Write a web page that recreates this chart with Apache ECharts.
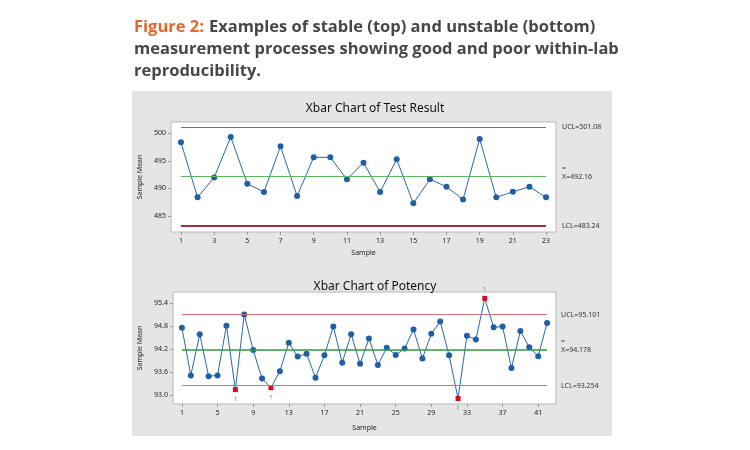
<!DOCTYPE html>
<html><head><meta charset="utf-8">
<script src="https://cdn.jsdelivr.net/npm/echarts@6/dist/echarts.min.js"></script>
<style>html,body{margin:0;padding:0;background:#fff}#c{width:750px;height:450px}</style>
</head><body><div id="c"></div><script>
// ---- data ----
const captionLead = 'Figure 2:';
const captionLines = ['Examples of stable (top) and unstable (bottom)', 'measurement processes showing good and poor within-lab', 'reproducibility.'];
const topTitle = 'Xbar Chart of Test Result';
const botTitle = 'Xbar Chart of Potency';
const xName = 'Sample';
const yName = 'Sample Mean';

const topSamples = [1,2,3,4,5,6,7,8,9,10,11,12,13,14,15,16,17,18,19,20,21,22,23];
const topValues = [498.37,488.38,492.0,499.33,490.86,489.35,497.64,488.62,495.64,495.64,491.65,494.67,489.35,495.28,487.30,491.65,490.31,488.0,498.97,488.38,489.4,490.31,488.38];
const topUCL = 501.08, topCL = 492.16, topLCL = 483.24;
const topUCLText = 'UCL=501.08', topCLText = 'X=492.16', topLCLText = 'LCL=483.24';
const topXTicks = [1,3,5,7,9,11,13,15,17,19,21,23];
const topYTicks = [485,490,495,500];

const botSamples = [1,2,3,4,5,6,7,8,9,10,11,12,13,14,15,16,17,18,19,20,21,22,23,24,25,26,27,28,29,30,31,32,33,34,35,36,37,38,39,40,41,42];
const botValues = [94.76,93.52,94.59,93.50,93.52,94.81,93.15,95.10,94.18,93.44,93.20,93.63,94.37,94.01,94.08,93.46,94.04,94.79,93.85,94.59,93.82,94.48,93.79,94.24,94.05,94.22,94.71,93.96,94.60,94.92,94.04,92.92,94.55,94.45,95.52,94.77,94.79,93.71,94.67,94.25,94.02,94.88];
const botUCL = 95.101, botCL = 94.178, botLCL = 93.254;
const botUCLText = 'UCL=95.101', botCLText = 'X=94.178', botLCLText = 'LCL=93.254';
const botXTicks = [1,5,9,13,17,21,25,29,33,37,41];
const botYTicks = [93.0,93.6,94.2,94.8,95.4];
const botFlagged = [7,11,32,35];
const botFlagAbove = [35];
const flagText = '1';

// ---- styles ----
const FONT = 'Noto Sans';
const CAPFONT = 'Open Sans';
const blue = '#1f5ea8';
const red = '#d40f1c';

function seriesData(samples, values, flagged, above) {
  return samples.map((s, i) => {
    if (flagged && flagged.includes(s)) {
      return {
        value: [s, values[i]],
        symbol: 'rect', symbolSize: 5,
        itemStyle: {color: red},
        label: {show: true, formatter: flagText, position: above.includes(s) ? 'top' : 'bottom',
                distance: 4, fontSize: 6, color: '#777', fontFamily: FONT}
      };
    }
    return [s, values[i]];
  });
}

function limitLines(first, last, ucl, cl, lcl, uclT, clT, lclT, limColor, limWidth, lclWidth, lclColor, clColor, clWidth, dist) {
  const lab = (t) => ({show: true, position: 'end', formatter: t, fontSize: 7, color: '#333', fontFamily: FONT, distance: dist});
  return {
    silent: true, symbol: 'none', animation: false,
    data: [
      [{coord: [first, ucl], lineStyle: {color: limColor, width: limWidth, type: 'solid'}, label: lab(uclT)}, {coord: [last, ucl]}],
      [{coord: [first, cl], lineStyle: {color: clColor, width: clWidth, type: 'solid'},
        label: {show: true, position: 'end', distance: dist, fontFamily: FONT,
                formatter: '{a|=}\n{b|' + clT + '}', padding: [0,0,9,0],
                rich: {a: {fontSize: 7, color: '#333', lineHeight: 9, fontFamily: FONT}, b: {fontSize: 7, color: '#333', lineHeight: 9, fontFamily: FONT}}}},
       {coord: [last, cl]}],
      [{coord: [first, lcl], lineStyle: {color: lclColor, width: lclWidth, type: 'solid'}, label: lab(lclT)}, {coord: [last, lcl]}]
    ]
  };
}

const axisLbl = {fontSize: 7, color: '#222', fontFamily: FONT};
function xAxis(gi, min, max, ticks, gap) {
  return {
    type: 'value', gridIndex: gi, min, max,
    axisLine: {show: false}, splitLine: {show: false},
    axisTick: {show: true, length: 3, lineStyle: {color: '#999'}, customValues: ticks},
    axisLabel: Object.assign({margin: 5, customValues: ticks, formatter: v => String(v)}, axisLbl),
    name: xName, nameLocation: 'middle', nameGap: gap,
    nameTextStyle: {fontSize: 7, color: '#222', fontFamily: FONT}
  };
}
function yAxis(gi, min, max, ticks, dec) {
  return {
    type: 'value', gridIndex: gi, min, max,
    axisLine: {show: false}, splitLine: {show: false},
    axisTick: {show: true, length: 3, lineStyle: {color: '#999'}, customValues: ticks},
    axisLabel: Object.assign({margin: 5, customValues: ticks, formatter: v => v.toFixed(dec)}, axisLbl),
    name: yName, nameLocation: 'middle', nameGap: 25, nameRotate: 90,
    nameTextStyle: {fontSize: 7, color: '#222', fontFamily: FONT}
  };
}

const chart = echarts.init(document.getElementById('c'), null, {renderer: 'canvas'});
chart.setOption({
  animation: false,
  backgroundColor: '#fff',
  graphic: [{type: 'rect', silent: true, z: -100, shape: {x: 132, y: 91, width: 480, height: 345}, style: {fill: '#e5e5e5'}}],
  title: [
    {left: 129, top: 11,
     text: '{o|' + captionLead + '} {d|' + captionLines[0] + '}\n{d|' + captionLines[1] + '}\n{d|' + captionLines[2] + '}',
     textStyle: {rich: {
       o: {fontSize: 16.5, fontWeight: 'bold', color: '#e2672e', fontFamily: CAPFONT, lineHeight: 22},
       d: {fontSize: 16.5, fontWeight: 'bold', color: '#474747', fontFamily: CAPFONT, lineHeight: 22}}}},
    {text: topTitle, left: 370, top: 98, textAlign: 'center',
     textStyle: {fontSize: 12, fontWeight: 'normal', color: '#111', fontFamily: FONT}},
    {text: botTitle, left: 370, top: 276, textAlign: 'center',
     textStyle: {fontSize: 12, fontWeight: 'normal', color: '#111', fontFamily: FONT}}
  ],
  grid: [
    {left: 171, top: 122, width: 385, height: 110, show: true, backgroundColor: '#fff', borderColor: '#b8b8b8', borderWidth: 1},
    {left: 173, top: 292, width: 383, height: 112, show: true, backgroundColor: '#fff', borderColor: '#b8b8b8', borderWidth: 1}
  ],
  xAxis: [xAxis(0, 0.4, 23.6, topXTicks, 17), xAxis(1, 0, 43, botXTicks, 20)],
  yAxis: [yAxis(0, 482.1, 502.05, topYTicks, 0), yAxis(1, 92.777, 95.686, botYTicks, 1)],
  series: [
    {type: 'line', xAxisIndex: 0, yAxisIndex: 0, data: seriesData(topSamples, topValues),
     symbol: 'circle', symbolSize: 6, lineStyle: {color: '#2a67aa', width: 1}, itemStyle: {color: blue},
     markLine: limitLines(topSamples[0], topSamples[topSamples.length-1], topUCL, topCL, topLCL, topUCLText, topCLText, topLCLText,
                          '#c0505a', 1, 2, '#a3303e', '#5cb860', 1, 16)},
    {type: 'line', xAxisIndex: 1, yAxisIndex: 1, data: seriesData(botSamples, botValues, botFlagged, botFlagAbove),
     symbol: 'circle', symbolSize: 6, lineStyle: {color: '#2a67aa', width: 1}, itemStyle: {color: blue},
     markLine: limitLines(botSamples[0], botSamples[botSamples.length-1], botUCL, botCL, botLCL, botUCLText, botCLText, botLCLText,
                          '#d0707a', 1, 1, '#d0707a', '#2f9a3e', 1.5, 14)}
  ]
});
</script></body></html>
